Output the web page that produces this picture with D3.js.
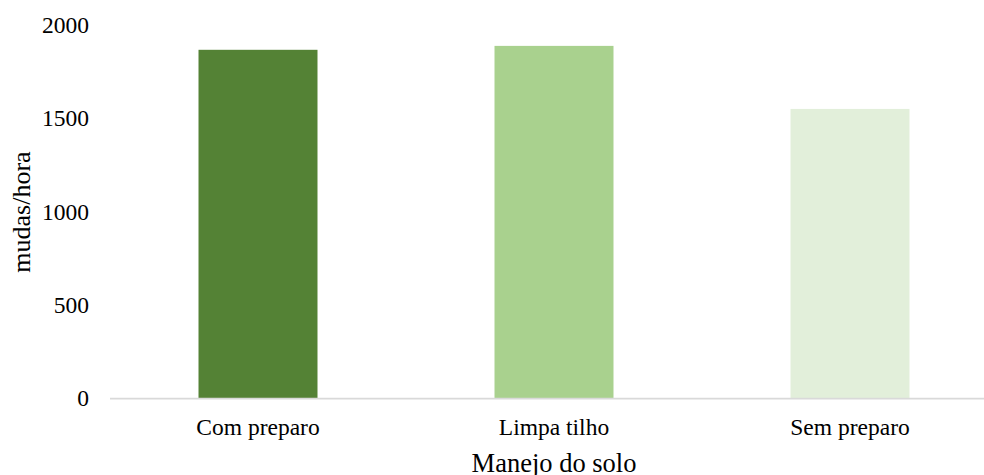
<!DOCTYPE html>
<html>
<head>
<meta charset="utf-8">
<script src="https://cdn.jsdelivr.net/npm/d3@7"></script>
<style>
  html, body { margin: 0; padding: 0; background: #fff; }
  svg { display: block; }
  text { font-family: "Liberation Serif", "Times New Roman", serif; fill: #000; }
</style>
</head>
<body>
<svg id="chart" width="984" height="475"></svg>
<script>
// Planting rate by soil management
const categories = ["Com preparo", "Limpa tilho", "Sem preparo"];
const values = [1867, 1888, 1550];
const barColors = ["#548235", "#A9D18E", "#E2EFDA"];
const yTicks = [0, 500, 1000, 1500, 2000];
const xTitle = "Manejo do solo";
const yTitle = "mudas/hora";

const svg = d3.select("#chart");
const W = 984, H = 475;
const plot = { left: 110, right: 998, top: 25, bottom: 398 };

const x = d3.scaleBand()
  .domain(categories)
  .range([plot.left, plot.right])
  .paddingInner(0.598)
  .paddingOuter(0.299);

const y = d3.scaleLinear()
  .domain([0, 2000])
  .range([plot.bottom, plot.top]);

// bars
svg.append("g")
  .selectAll("rect")
  .data(categories)
  .join("rect")
  .attr("x", d => x(d))
  .attr("width", x.bandwidth())
  .attr("y", (d, i) => y(values[i]))
  .attr("height", (d, i) => y(0) - y(values[i]))
  .attr("fill", (d, i) => barColors[i]);

// y axis labels (no axis line, no ticks)
const yAxis = svg.append("g")
  .attr("transform", `translate(${plot.left - 21},0)`)
  .call(d3.axisLeft(y).tickValues(yTicks).tickSize(0).tickPadding(0).tickFormat(d3.format("d")));
yAxis.select(".domain").remove();
yAxis.selectAll("text")
  .attr("font-size", 23.5)
  .attr("font-family", "Liberation Serif, serif")
  .attr("fill", "#000");

// x axis baseline
svg.append("line")
  .attr("x1", plot.left).attr("x2", W)
  .attr("y1", y(0) + 0.5).attr("y2", y(0) + 0.5)
  .attr("stroke", "#D9D9D9")
  .attr("stroke-width", 1.75);

// x axis category labels
const xAxis = svg.append("g")
  .attr("transform", `translate(0,${y(0)})`)
  .call(d3.axisBottom(x).tickSize(0).tickPadding(0));
xAxis.select(".domain").remove();
xAxis.selectAll("text")
  .attr("dy", null)
  .attr("y", 37)
  .attr("font-size", 23.5)
  .attr("font-family", "Liberation Serif, serif")
  .attr("fill", "#000");

// axis titles
svg.append("text")
  .attr("x", (plot.left + plot.right) / 2)
  .attr("y", 472)
  .attr("text-anchor", "middle")
  .attr("font-size", 26.5)
  .text(xTitle);

svg.append("text")
  .attr("transform", `translate(30,212) rotate(-90)`)
  .attr("text-anchor", "middle")
  .attr("font-size", 26)
  .text(yTitle);
</script>
</body>
</html>
